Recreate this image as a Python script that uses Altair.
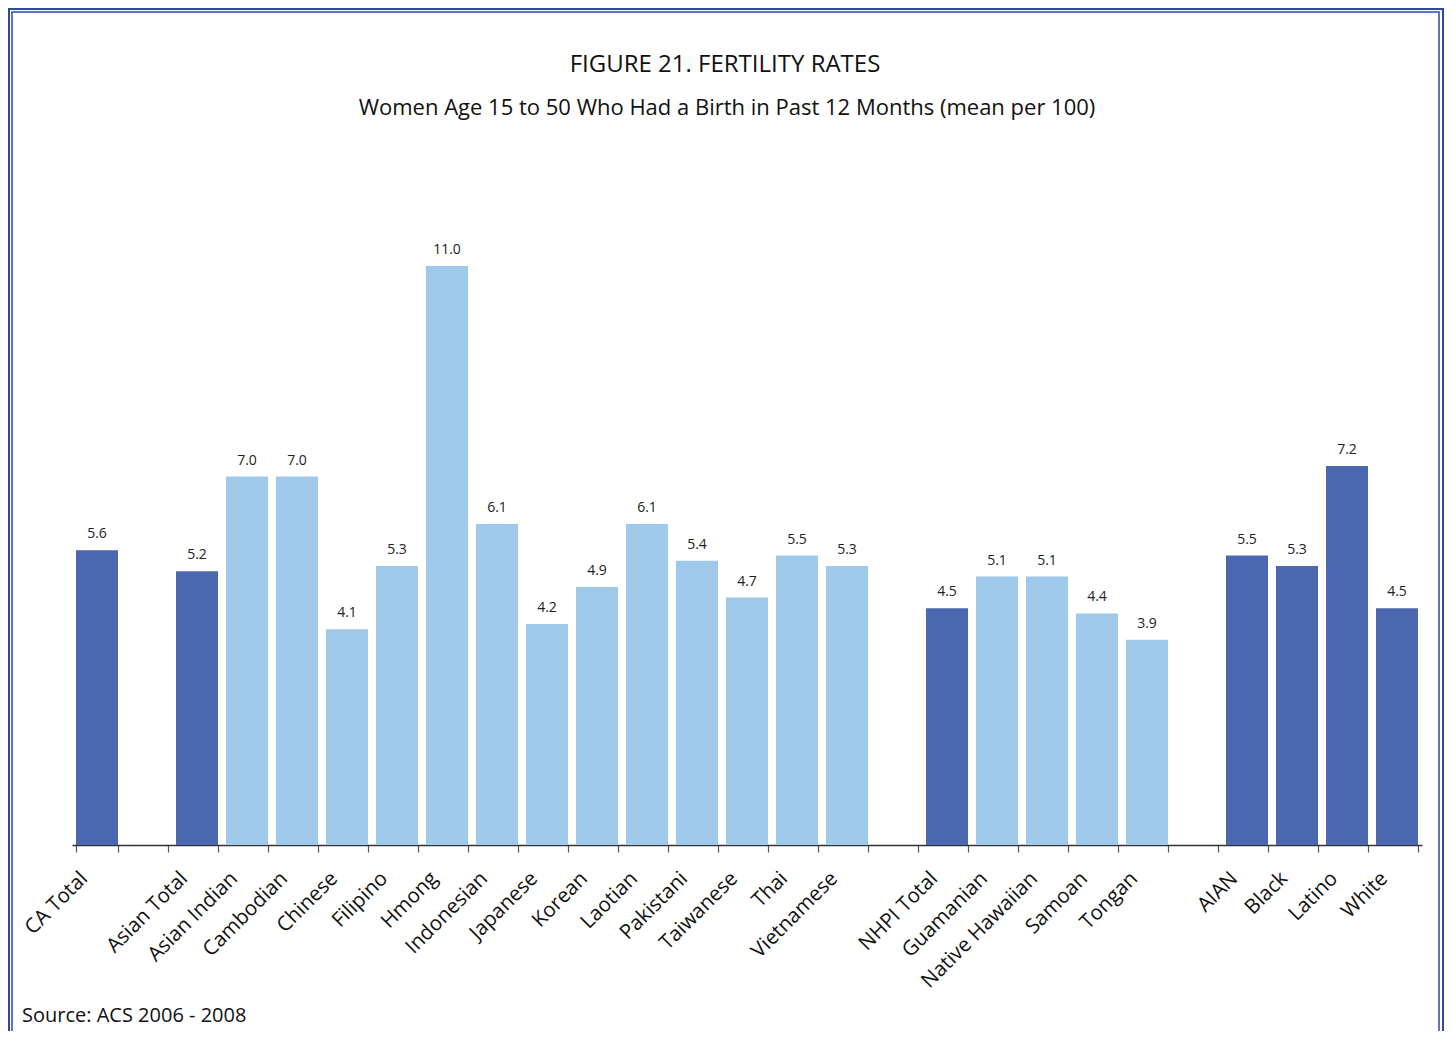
import altair as alt
import pandas as pd

categories = ["CA Total", " ", "Asian Total", "Asian Indian", "Cambodian", "Chinese",
              "Filipino", "Hmong", "Indonesian", "Japanese", "Korean", "Laotian",
              "Pakistani", "Taiwanese", "Thai", "Vietnamese", "  ", "NHPI Total",
              "Guamanian", "Native Hawaiian", "Samoan", "Tongan", "   ", "AIAN",
              "Black", "Latino", "White"]
values = [5.6, None, 5.2, 7.0, 7.0, 4.1, 5.3, 11.0, 6.1, 4.2, 4.9, 6.1, 5.4, 4.7,
          5.5, 5.3, None, 4.5, 5.1, 5.1, 4.4, 3.9, None, 5.5, 5.3, 7.2, 4.5]
groups = ["total", "blank", "total", "sub", "sub", "sub", "sub", "sub", "sub", "sub",
          "sub", "sub", "sub", "sub", "sub", "sub", "blank", "total", "sub", "sub",
          "sub", "sub", "blank", "total", "total", "total", "total"]

title_text = "FIGURE 21. FERTILITY RATES"
subtitle_text = "Women Age 15 to 50 Who Had a Birth in Past 12 Months (mean per 100)"
source_text = "Source: ACS 2006 - 2008"

FONT = "Open Sans"
DARK = "#4a67b0"
LIGHT = "#9fc9eb"
FRAME = "#2e4a9e"

df = pd.DataFrame({"cat": categories, "value": values, "group": groups})
W, H = 1350, 579

x = alt.X("cat:N", sort=categories, title=None,
          scale=alt.Scale(paddingInner=0.16, paddingOuter=0.08),
          axis=alt.Axis(tickBand="extent", labelAngle=-45, labelAlign="right",
                        labelBaseline="middle", labelFontSize=20.5, labelFont=FONT,
                        labelColor="#111111", labelPadding=23, labelOffset=-13,
                        tickSize=7, tickColor="#555555", tickWidth=1.2,
                        domainColor="#333333", domainWidth=1.3, grid=False))
y = alt.Y("value:Q", scale=alt.Scale(domain=[0, 11], nice=False), axis=None)

base = alt.Chart(df)
bars = base.mark_bar().encode(
    x=x, y=y,
    color=alt.Color("group:N", scale=alt.Scale(domain=["total", "sub"], range=[DARK, LIGHT]),
                    legend=None))
labels = base.mark_text(baseline="bottom", dy=-9, fontSize=14, font=FONT,
                        color="#222222").encode(
    x=alt.X("cat:N", sort=categories), y="value:Q", text=alt.Text("value:Q", format=".1f"))

one = pd.DataFrame({"t": [title_text], "s": [subtitle_text], "src": [source_text]})
title = alt.Chart(one).mark_text(fontSize=24, font=FONT, color="#111111",
                                 align="center", baseline="middle").encode(
    text="t:N", x=alt.value(653), y=alt.value(-201))
subtitle = alt.Chart(one).mark_text(fontSize=22, font=FONT, color="#111111",
                                    align="center", baseline="middle").encode(
    text="s:N", x=alt.value(655), y=alt.value(-158))
source = alt.Chart(one).mark_text(fontSize=20, font=FONT, color="#111111",
                                  align="left", baseline="middle").encode(
    text="src:N", x=alt.value(-50), y=alt.value(750))

outer = alt.Chart(one).mark_rect(fillOpacity=0, stroke=FRAME, strokeWidth=3).encode(
    x=alt.value(-63.5), x2=alt.value(1371.5), y=alt.value(-257.5), y2=alt.value(800))
inner = alt.Chart(one).mark_rect(fillOpacity=0, stroke=FRAME, strokeWidth=1.5).encode(
    x=alt.value(-60), x2=alt.value(1367), y=alt.value(-254), y2=alt.value(800))

chart = alt.layer(outer, inner, bars, labels, title, subtitle, source).properties(
    width=W, height=H,
    background="white",
    autosize=alt.AutoSizeParams(type="none"),
    padding={"left": 64, "top": 258, "right": 22, "bottom": 186},
).configure_view(strokeWidth=0, stroke="transparent")

chart.save("out.html", embed_options={"renderer": "svg", "actions": False})
